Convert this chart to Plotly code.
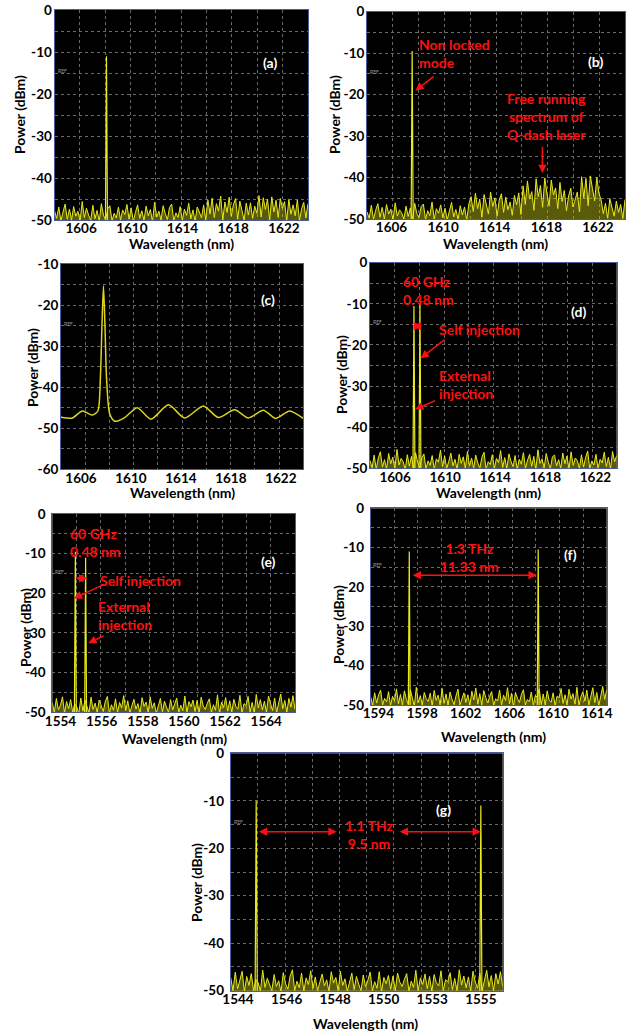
import plotly.graph_objects as go

W, H = 627, 1032
FONT = "Lato"
YEL = "#E9E91E"
RED = "#FF1010"

# ---------------- data ----------------
# (a) single mode
noise_a = [-47.8,-49.6,-46.9,-50.2,-48.1,-46.2,-49.8,-47.4,-50.0,-46.8,-49.1,-47.9,
           -50.3,-45.6,-49.4,-47.2,-48.8,-50.1,-46.5,-49.7,-47.7,-50.4,-46.1,-48.9,
           -49.9,-47.3,-46.6,-50.2,-48.4,-49.5,-46.9,-50.0,-47.6,-48.7,-46.3,-49.8,
           -47.1,-50.3,-48.2,-46.4,-49.6,-47.8,-50.1,-46.7,-49.0,-47.5,-50.4,-45.8,
           -49.3,-47.9,-50.0,-46.6,-48.5,-49.9,-47.0,-46.2,-50.2,-48.3,-49.4,-46.8,
           -50.1,-47.4,-48.9,-46.0,-49.7,-47.6,-50.3,-46.9,-48.1,-49.5,-46.4,-50.0,
           -45.2,-48.6,-44.8,-49.4,-46.1,-47.9,-44.3,-50.0,-45.7,-48.2,-44.6,-49.1,
           -46.3,-44.9,-49.8,-45.5,-47.7,-50.1,-46.0,-48.8,-45.9,-49.6,-46.7,-48.4,
           -44.2,-49.3,-44.7,-47.5,-45.0,-50.0,-44.5,-48.1,-45.3,-49.4,-44.9,-47.2,
           -45.6,-50.2,-45.1,-48.6,-46.4,-49.0,-45.2,-50.1,-47.3,-45.8,-49.5,-46.1]
peak_wl_a = [1608.0]
peak_dbm_a = [-11.0]

# (b) free running Q-dash + non locked mode
noise_b = [-48.3,-49.8,-46.7,-50.1,-47.9,-46.3,-49.6,-47.2,-50.0,-46.5,-48.8,-47.6,
           -50.2,-46.1,-49.3,-47.8,-48.5,-50.0,-46.9,-49.4,-47.3,-50.3,-46.2,-48.7,
           -49.6,-47.0,-46.4,-50.1,-48.0,-49.2,-45.9,-50.0,-47.5,-48.6,-46.6,-49.7,
           -47.4,-50.2,-48.1,-46.0,-49.5,-47.7,-50.1,-46.8,-49.0,-47.1,-50.3,-46.3,
           -44.6,-48.2,-43.8,-47.5,-45.2,-49.6,-44.1,-46.9,-48.8,-43.5,-47.0,-44.9,
           -49.3,-45.5,-43.9,-48.4,-44.7,-47.8,-45.9,-49.1,-44.3,-46.6,-43.7,-48.9,
           -42.0,-46.5,-40.8,-45.2,-43.4,-47.9,-40.3,-44.6,-41.9,-47.2,-40.1,-43.8,
           -46.9,-40.6,-44.2,-42.5,-47.5,-41.2,
           -45.8,-43.1,-48.0,-44.4,-42.6,-47.1,-45.0,-43.5,-48.3,
           -39.8,-44.9,-40.2,-46.8,-39.6,-42.7,-45.6,-40.0,-43.9,
           -45.4,-48.7,-46.2,-49.8,-45.1,-47.6,-49.3,-45.7,-48.4,-46.5,-49.9,-45.3]
peak_wl_b = [1607.6]
peak_dbm_b = [-9.5]

# (c) smooth spectrum
c_wl = [1604.4, 1605.3, 1606.1, 1606.9, 1607.35, 1607.55, 1607.68, 1607.8, 1607.92,
        1608.05, 1608.3, 1608.7, 1609.5, 1610.5, 1611.6, 1613.0, 1614.3, 1615.8,
        1617.0, 1618.3, 1619.4, 1620.6, 1621.6, 1622.7, 1623.8]
c_dbm = [-47.3, -47.5, -45.8, -46.8, -45.8, -38.0, -25.0, -15.3, -25.0,
         -38.0, -46.5, -48.3, -47.4, -45.0, -47.8, -44.3, -47.5, -44.6,
         -47.4, -45.5, -47.5, -45.6, -47.6, -45.8, -47.6]

# (d) two modes 0.48 nm apart
noise_d = [-48.1,-49.9,-46.8,-50.2,-47.5,-46.0,-49.7,-47.9,-50.1,-46.4,-48.9,-47.3,
           -50.0,-45.4,-49.2,-47.6,-48.4,-50.3,-46.7,-49.5,-47.1,-50.0,-46.2,-48.6,
           -49.8,-47.4,-46.5,-50.1,-48.2,-49.3,-46.9,-50.2,-47.7,-48.5,-45.6,-49.6,
           -47.0,-50.0,-48.3,-46.3,-49.4,-47.8,-50.3,-46.6,-48.8,-47.2,-50.1,-45.9,
           -49.5,-47.5,-50.0,-46.8,-48.7,-49.9,-47.3,-46.1,-50.2,-48.4,-49.1,-46.7,
           -50.0,-47.6,-48.6,-45.7,-49.8,-47.4,-50.1,-46.5,-48.3,-49.6,-46.9,-50.2,
           -47.8,-49.0,-46.2,-50.0,-48.0,-46.6,-49.5,-47.1,-50.3,-45.5,-48.8,-47.7,
           -49.9,-46.4,-48.5,-50.1,-47.2,-46.8,-49.4,-47.9,-50.0,-46.3,-48.9,-47.0,
           -50.2,-46.0,-49.3,-47.5,-48.1,-50.0,-46.7,-49.7,-47.4,-45.8,-50.1,-48.2,
           -49.2,-46.6,-50.0,-47.8,-48.7,-46.1,-49.6,-47.3,-50.2,-45.9,-48.4,-46.9]
peak_wl_d = [1607.51, 1607.99]
peak_dbm_d = [-10.5, -10.0]

# (e) two modes near 1555 nm
noise_e = [-47.6,-50.0,-46.5,-49.4,-48.2,-46.1,-50.2,-47.3,-49.1,-46.8,-50.0,-47.9,
           -48.6,-50.3,-46.4,-49.7,-47.0,-48.8,-50.1,-46.2,-49.3,-47.7,-50.0,-46.9,
           -48.4,-49.8,-47.2,-46.0,-50.2,-48.1,-49.5,-46.6,-50.0,-47.5,-48.9,-45.8,
           -49.6,-47.1,-50.1,-48.3,-46.7,-49.2,-47.8,-50.3,-46.3,-48.5,-47.4,-50.0,
           -46.1,-49.0,-47.6,-50.2,-48.0,-46.5,-49.9,-47.2,-48.7,-50.0,-46.8,-49.4,
           -47.9,-46.4,-50.1,-48.2,-49.6,-45.9,-50.0,-47.3,-48.6,-46.9,-49.8,-47.0,
           -50.2,-46.2,-48.4,-49.3,-47.7,-46.6,-50.0,-48.1,-49.5,-45.6,-50.3,-47.4,
           -48.8,-46.3,-49.7,-47.1,-50.0,-46.7,-48.5,-49.2,-45.7,-50.1,-47.8,-48.3,
           -46.0,-49.9,-47.5,-50.2,-45.5,-48.9,-46.8,-49.4,-47.2,-50.0,-45.9,-48.0,
           -49.6,-46.4,-50.1,-47.6,-45.4,-49.1,-47.0,-50.0,-46.5,-48.7,-45.8,-49.3]
peak_wl_e = [1554.72, 1555.22]
peak_dbm_e = [-9.5, -11.0]

# (f) two modes 11.33 nm apart
noise_f = [-48.0,-50.1,-46.9,-49.5,-47.4,-46.2,-50.0,-48.3,-49.2,-46.6,-50.2,-47.8,
           -48.9,-45.9,-49.7,-47.3,-50.0,-46.4,-48.6,-49.8,-46.1,-47.9,-50.3,-45.5,
           -49.4,-47.6,-50.0,-46.8,-48.4,-49.1,-47.0,-50.2,-46.3,-48.8,-47.5,-50.0,
           -45.8,-49.6,-47.2,-50.1,-46.7,-48.5,-49.9,-47.7,-46.0,-50.0,-48.2,-46.9,
           -49.3,-47.4,-50.2,-46.5,-48.7,-45.7,-49.8,-47.1,-50.0,-46.3,-48.1,-49.5,
           -47.8,-46.6,-50.1,-48.4,-49.0,-46.2,-50.0,-47.5,-48.9,-45.6,-49.7,-47.0,
           -50.3,-46.8,-48.3,-49.4,-47.3,-46.1,-50.0,-48.6,-49.2,-46.7,-50.1,-47.6,
           -48.0,-45.9,-49.9,-47.2,-50.0,-46.4,-48.8,-49.3,-46.9,-50.2,-47.7,-48.2,
           -45.8,-49.6,-47.4,-50.0,-46.0,-48.5,-47.1,-49.8,-45.5,-50.1,-47.9,-46.6,
           -49.0,-46.2,-50.0,-47.3,-45.6,-49.4,-46.8,-50.2,-47.5,-45.3,-48.6,-46.1]
peak_wl_f = [1596.83, 1608.63]
peak_dbm_f = [-11.0, -10.5]

# (g) two modes 9.5 nm apart
noise_g = [-47.2,-50.0,-46.1,-49.6,-47.8,-45.9,-50.2,-47.0,-48.9,-46.4,-50.0,-47.6,
           -48.3,-50.1,-45.7,-49.3,-47.4,-48.8,-50.0,-46.6,-49.1,-47.9,-50.3,-46.2,
           -48.5,-49.7,-46.9,-45.6,-50.0,-48.0,-49.4,-46.3,-50.1,-47.3,-48.7,-45.8,
           -49.5,-47.1,-50.0,-48.2,-46.5,-49.0,-47.7,-50.2,-46.0,-48.4,-47.2,-50.0,
           -45.9,-48.9,-47.5,-50.1,-47.9,-46.3,-49.8,-47.0,-48.6,-50.0,-46.7,-49.2,
           -47.8,-46.1,-50.0,-48.1,-49.5,-46.0,-50.2,-47.2,-48.5,-46.8,-49.7,-46.9,
           -50.0,-46.3,-48.2,-49.1,-47.6,-46.4,-50.1,-48.0,-49.3,-45.7,-50.0,-47.3,
           -48.7,-46.5,-49.6,-47.0,-50.2,-46.6,-48.3,-49.0,-45.8,-50.0,-47.7,-48.1,
           -46.2,-49.8,-47.4,-50.0,-45.6,-48.8,-46.9,-49.4,-47.1,-50.1,-45.9,-48.2,
           -49.5,-46.3,-50.0,-47.5,-45.7,-49.2,-46.8,-50.0,-46.4,-48.6,-46.0,-49.1]
peak_wl_g = [1544.75, 1554.0]
peak_dbm_g = [-10.0, -11.0]

# tick labels
xt_1606 = [1606, 1610, 1614, 1618, 1622]
xt_f = [1594, 1598, 1602, 1606, 1610, 1614]
xt_e = [1554, 1556, 1558, 1560, 1562, 1564]
xt_g = [1544, 1546, 1548, 1550, 1552, 1554]
xt_g_text = ["1544", "1546", "1548", "1550", "1553", "1555"]
yt_0_50 = [0, -10, -20, -30, -40, -50]
yt_c = [-10, -20, -30, -40, -50, -60]

# ---------------- layout ----------------
# pixel boxes of the plotting areas: (left, right, top, bottom)
# xt_pos: centre of x title (px), yt_pos: centre of y title (px)
panels = [
    dict(key="a", box=(54.5, 308, 10, 220), xr=[1603.9, 1623.9], yr=[-50, 0],
         xt=xt_1606, xtt=None, yt=yt_0_50, noise=noise_a, pk=(peak_wl_a, peak_dbm_a),
         xt_pos=(181, 244), yt_pos=(20, 115), ysd=-1),
    dict(key="b", box=(367, 625, 11.7, 219), xr=[1604.1, 1624.1], yr=[-50, 0],
         xt=xt_1606, xtt=None, yt=yt_0_50, noise=noise_b, pk=(peak_wl_b, peak_dbm_b),
         xt_pos=(496, 244), yt_pos=(335, 115), ysd=-1),
    dict(key="c", box=(61, 303.3, 264, 469.3), xr=[1604.4, 1623.8], yr=[-60, -10],
         xt=xt_1606, xtt=None, yt=yt_c, noise=None, pk=None,
         xt_pos=(182, 493), yt_pos=(33, 368), ysd=-1),
    dict(key="d", box=(370, 616.7, 262.7, 468.3), xr=[1604.0, 1623.7], yr=[-50, 0],
         xt=xt_1606, xtt=None, yt=yt_0_50, noise=noise_d, pk=(peak_wl_d, peak_dbm_d),
         xt_pos=(488, 493), yt_pos=(341, 375), ysd=-1),
    dict(key="e", box=(52.3, 295, 514, 712.3), xr=[1553.6, 1565.4], yr=[-50, 0],
         xt=xt_e, xtt=None, yt=yt_0_50, noise=noise_e, pk=(peak_wl_e, peak_dbm_e),
         xt_pos=(174, 738), yt_pos=(25, 628), ysd=3),
    dict(key="f", box=(370.7, 606.7, 508.3, 705), xr=[1593.3, 1614.9], yr=[-50, 0],
         xt=xt_f, xtt=None, yt=yt_0_50, noise=noise_f, pk=(peak_wl_f, peak_dbm_f),
         xt_pos=(493, 736), yt_pos=(338, 625), ysd=3),
    dict(key="g", box=(230.7, 502.7, 753.3, 990.7), xr=[1543.7, 1554.9], yr=[-50, 0],
         xt=xt_g, xtt=xt_g_text, yt=yt_0_50, noise=noise_g, pk=(peak_wl_g, peak_dbm_g),
         xt_pos=(365, 1023), yt_pos=(196, 883), ysd=3),
]

fig = go.Figure()
layout = dict(width=W, height=H, margin=dict(l=0, r=0, t=0, b=0, pad=0, autoexpand=False),
              paper_bgcolor="white", plot_bgcolor="black", showlegend=False)
annotations = []

tickfont = dict(family=FONT, size=13.5, color="black", weight="bold")
titlefont = dict(family=FONT, size=14, color="black", weight="bold")
GRID = "#6a6a6a"
AXC = "#4a5a9a"

refs = {}
for i, p in enumerate(panels):
    n = "" if i == 0 else str(i + 1)
    xa, ya = "x" + n, "y" + n
    refs[p["key"]] = (xa, ya)
    l, r, t, b = p["box"]
    x0, x1 = p["xr"]
    y0, y1 = p["yr"]
    layout["xaxis" + n] = dict(
        domain=[l / W, r / W], range=p["xr"], anchor=ya, automargin=False,
        tickmode="array", tickvals=p["xt"],
        ticktext=p["xtt"] if p["xtt"] else [str(v) for v in p["xt"]],
        tickfont=tickfont, ticks="", ticklabelstandoff=-4, showgrid=False, zeroline=False,
        showline=True, linecolor=AXC, linewidth=1, mirror=True,
        minor=dict(tickmode="linear", tick0=x0, dtick=(x1 - x0) / 10,
                   showgrid=True, gridcolor=GRID, griddash="dot", gridwidth=1, ticks=""),
    )
    layout["yaxis" + n] = dict(
        domain=[1 - b / H, 1 - t / H], range=p["yr"], anchor=xa, automargin=False,
        tickmode="array", tickvals=p["yt"], ticktext=[str(v) for v in p["yt"]],
        tickfont=tickfont, ticks="", ticklabelstandoff=p["ysd"], showgrid=False, zeroline=False,
        showline=True, linecolor=AXC, linewidth=1, mirror=True,
        minor=dict(tickmode="linear", tick0=y0, dtick=(y1 - y0) / 10,
                   showgrid=True, gridcolor=GRID, griddash="dot", gridwidth=1, ticks=""),
    )
    # axis titles
    tx, ty = p["xt_pos"]
    annotations.append(dict(xref="paper", yref="paper", x=tx / W, y=1 - ty / H,
                            text="Wavelength (nm)", showarrow=False, font=titlefont,
                            xanchor="center", yanchor="middle"))
    tx, ty = p["yt_pos"]
    annotations.append(dict(xref="paper", yref="paper", x=tx / W, y=1 - ty / H,
                            text="Power (dBm)", showarrow=False, font=titlefont, textangle=-90,
                            xanchor="center", yanchor="middle"))
    floor = y0 - 1
    if p["noise"] is not None:
        nz = p["noise"]
        step = (x1 - x0) / (len(nz) - 1)
        fig.add_trace(go.Scatter(x=[x0, x1], y=[floor, floor], mode="lines",
                                 line=dict(width=0, color="black"),
                                 xaxis=xa, yaxis=ya, hoverinfo="skip"))
        fig.add_trace(go.Scatter(x=[x0 + k * step for k in range(len(nz))], y=nz,
                                 mode="lines", line=dict(color=YEL, width=1),
                                 fill="tonexty", fillcolor="rgba(200,200,25,0.45)",
                                 xaxis=xa, yaxis=ya, hoverinfo="skip"))
    if p["pk"] is not None:
        half = (x1 - x0) * 0.004
        px, py = [], []
        for wl, db in zip(*p["pk"]):
            px += [wl - half, wl, wl + half, None]
            py += [floor, db, floor, None]
        fig.add_trace(go.Scatter(x=px, y=py, mode="lines",
                                 line=dict(color=YEL, width=1.2),
                                 xaxis=xa, yaxis=ya, hoverinfo="skip"))
    # tiny REF marker of the OSA screen
    annotations.append(dict(xref=xa, yref=ya, x=x0 + (x1 - x0) * 0.03, y=y1 - (y1 - y0) * 0.29,
                            text="REF", showarrow=False, xanchor="center",
                            font=dict(family=FONT, size=5, color="#9a9a9a")))

# (c) smooth curve
xa, ya = refs["c"]
fig.add_trace(go.Scatter(x=c_wl, y=c_dbm, mode="lines",
                         line=dict(color="#DCD41E", width=1.5, shape="spline", smoothing=0.7),
                         xaxis=xa, yaxis=ya, hoverinfo="skip"))

# panel labels
lab_pos = {"a": (1620.9, -12.5), "b": (1621.8, -12.1), "c": (1621.0, -18.6), "d": (1620.64, -11.9),
           "e": (1564.1, -11.85), "f": (1611.6, -11.7), "g": (1552.45, -11.8)}
for k, (lx, ly) in lab_pos.items():
    xa, ya = refs[k]
    annotations.append(dict(xref=xa, yref=ya, x=lx, y=ly, text="(" + k + ")", showarrow=False,
                            font=dict(family=FONT, size=14, color="white", weight="bold")))

redfont = dict(family=FONT, size=14, color=RED, weight="bold")


def txt(k, x, y, s, xanchor="left"):
    xa, ya = refs[k]
    annotations.append(dict(xref=xa, yref=ya, x=x, y=y, text=s, showarrow=False,
                            xanchor=xanchor, yanchor="middle", align=xanchor, font=redfont))


def arrow(k, tx, ty, hx, hy, both=False):
    xa, ya = refs[k]
    annotations.append(dict(xref=xa, yref=ya, axref=xa, ayref=ya, x=hx, y=hy, ax=tx, ay=ty,
                            text="", showarrow=True, arrowcolor=RED, arrowwidth=1.5,
                            arrowhead=2, arrowsize=1.1, startarrowhead=2, startarrowsize=1.1,
                            arrowside="end+start" if both else "end"))


# (b)
txt("b", 1608.0, -10.0, "Non locked<br>mode")
arrow("b", 1609.4, -15.3, 1607.85, -19.05)
txt("b", 1618.05, -25.2, "Free running<br>spectrum of<br>Q-dash laser", xanchor="center")
arrow("b", 1617.7, -32.2, 1617.7, -38.9)
# (d)
txt("d", 1606.5, -6.65, "60 GHz<br>0.48 nm")
arrow("d", 1607.3, -15.4, 1608.15, -15.4, both=True)
txt("d", 1609.33, -16.2, "Self injection")
arrow("d", 1610.07, -18.4, 1608.05, -23.25)
txt("d", 1609.33, -29.5, "External<br>injection")
arrow("d", 1609.33, -33.4, 1607.6, -35.65)
# (e)
txt("e", 1554.38, -7.2, "60 GHz<br>0.48 nm")
arrow("e", 1554.65, -16.2, 1555.3, -16.2, both=True)
txt("e", 1555.84, -16.8, "Self injection")
arrow("e", 1556.21, -17.5, 1554.65, -21.3)
txt("e", 1555.71, -25.7, "External<br>injection")
arrow("e", 1556.16, -30.5, 1555.35, -32.6)
# (f)
txt("f", 1602.38, -12.6, "1.3 THz<br>11.33 nm", xanchor="center")
arrow("f", 1597.0, -17.0, 1608.5, -17.0, both=True)
# (g)
txt("g", 1549.43, -17.2, "1.1 THz<br>9.5 nm", xanchor="center")
arrow("g", 1544.8, -16.5, 1548.06, -16.5, both=True)
arrow("g", 1550.6, -16.5, 1554.0, -16.5, both=True)

layout["annotations"] = annotations
fig.update_layout(**layout)
fig.write_html("out.html", config={"displayModeBar": False},
               post_script="document.body.style.margin='0';document.body.style.overflow='hidden';")
